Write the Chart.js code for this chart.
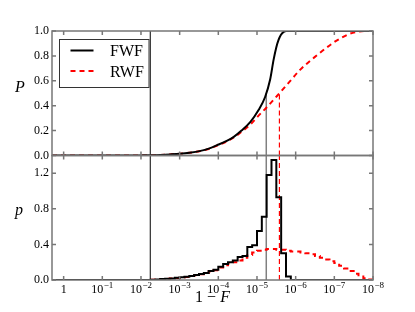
<!DOCTYPE html>
<html><head><meta charset="utf-8">
<script src="https://cdn.jsdelivr.net/npm/chart.js@4.4.1/dist/chart.umd.min.js"></script>
<style>html,body{margin:0;padding:0;background:#fff}canvas{display:block}</style>
</head><body>
<canvas id="c" width="415" height="312"></canvas>
<script>
// x values are given as exponents e, where 1 - F = 10^-e
const fwfCdfExp = [-0.3, 1.0, 1.75, 2.0, 2.25, 2.5, 2.75, 3.0, 3.25, 3.54, 3.75, 3.97, 4.2, 4.4, 4.6, 4.83, 5.04, 5.21, 5.34, 5.43, 5.5, 5.56, 5.62, 5.69, 5.76, 6.5, 8.0];
const fwfCdf    = [0, 0, 0.0003, 0.001, 0.002, 0.005, 0.009, 0.014, 0.022, 0.037, 0.055, 0.083, 0.115, 0.15, 0.2, 0.27, 0.365, 0.47, 0.61, 0.77, 0.87, 0.93, 0.97, 0.993, 1.0, 1.0, 1.0];
const rwfCdfExp = [-0.3, 1.0, 1.75, 2.0, 2.25, 2.5, 2.75, 3.0, 3.25, 3.54, 3.75, 3.97, 4.2, 4.4, 4.6, 4.83, 5.04, 5.26, 5.58, 5.85, 6.12, 6.55, 6.97, 7.2, 7.4, 7.6, 7.83, 8.0];
const rwfCdf    = [0, 0, 0.0003, 0.001, 0.002, 0.005, 0.009, 0.014, 0.022, 0.036, 0.052, 0.08, 0.11, 0.145, 0.19, 0.25, 0.32, 0.39, 0.5, 0.595, 0.69, 0.805, 0.905, 0.948, 0.978, 0.994, 1.0, 1.0];

const histStartExp = -0.3;
const binExp = [2.25, 2.375, 2.5, 2.625, 2.75, 2.875, 3.0, 3.125, 3.25, 3.375, 3.5, 3.625, 3.75, 3.875, 4.0, 4.125, 4.25, 4.375, 4.5, 4.625, 4.75, 4.875, 5.0, 5.125, 5.25, 5.375, 5.5, 5.625, 5.75, 5.875, 6.0, 6.125, 6.25, 6.375, 6.5, 6.625, 6.75, 6.875, 7.0, 7.125, 7.25, 7.375, 7.5, 7.625, 7.75, 7.875];
const histEndExp = 8.0;
const fwfDensity = [0.004, 0.006, 0.01, 0.014, 0.018, 0.024, 0.03, 0.036, 0.045, 0.055, 0.068, 0.08, 0.1, 0.115,
  0.15, 0.18, 0.2, 0.22, 0.26, 0.27, 0.37, 0.39, 0.55, 0.71, 1.18, 1.35, 0.93, 0.30, 0.04,
  0, 0, 0, 0, 0, 0, 0, 0, 0, 0, 0, 0, 0, 0, 0, 0, 0, 0];
const rwfDensity = [0.004, 0.006, 0.01, 0.014, 0.018, 0.023, 0.029, 0.035, 0.044, 0.054, 0.066, 0.078, 0.095, 0.11,
  0.14, 0.165, 0.185,
  0.20, 0.22, 0.25, 0.28, 0.31, 0.33, 0.34, 0.35, 0.35, 0.34, 0.34, 0.33, 0.32, 0.32, 0.31, 0.30, 0.29, 0.27,
  0.25, 0.23, 0.21, 0.19, 0.16, 0.13, 0.10, 0.07, 0.04, 0.02, 0.005];

const thresholdExp = 2.24;
const fwfMedianExp = 5.24;
const rwfMedianExp = 5.58;
const medianP = 0.5;

const xTickExp = [0, 1, 2, 3, 4, 5, 6, 7, 8];
const xTickBase = ['1', '10', '10', '10', '10', '10', '10', '10', '10'];
const xTickSup  = ['', '−1', '−2', '−3', '−4', '−5', '−6', '−7', '−8'];
const yTopTicks = [0, 0.2, 0.4, 0.6, 0.8, 1.0];
const yBotTicks = [0, 0.4, 0.8, 1.2];
const seriesNames = ['FWF', 'RWF'];

const toX = e => Math.pow(10, -e);
const pts = (ex, ys) => ex.map((e, i) => ({x: toX(e), y: ys[i]}));
const histPts = (vals) => {
  const out = [{x: toX(histStartExp), y: 0}];
  binExp.forEach((e, i) => out.push({x: toX(e), y: vals[i]}));
  out.push({x: toX(histEndExp), y: vals[vals.length - 1]});
  return out;
};
const vline = (e, y0, y1) => [{x: toX(e), y: y0}, {x: toX(e), y: y1}];

const RED = '#ff0000', GRAY = '#808080', FRAME = '#777777';
const serif = '"Liberation Serif", "DejaVu Serif", serif';

const mpl = {
  id: 'mpl',
  afterDatasetsDraw(chart) {
    const {ctx, chartArea: a, scales} = chart;
    const xs = scales.x;
    ctx.save();
    ctx.strokeStyle = FRAME; ctx.lineWidth = 1.5;
    [scales.yTop, scales.yBot].forEach(s => {
      ctx.strokeRect(a.left, s.top, a.right - a.left, s.bottom - s.top);
      ctx.beginPath();
      xs.ticks.forEach(t => {
        const px = xs.getPixelForValue(t.value);
        ctx.moveTo(px, s.top); ctx.lineTo(px, s.top + 4);
        ctx.moveTo(px, s.bottom); ctx.lineTo(px, s.bottom - 4);
      });
      s.ticks.forEach(t => {
        const py = s.getPixelForValue(t.value);
        ctx.moveTo(a.left, py); ctx.lineTo(a.left + 4, py);
        ctx.moveTo(a.right, py); ctx.lineTo(a.right - 4, py);
      });
      ctx.stroke();
    });
    // x tick labels (base with raised exponent)
    ctx.fillStyle = '#000';
    ctx.textBaseline = 'alphabetic';
    ctx.textAlign = 'left';
    xs.ticks.forEach((t, i) => {
      const px = xs.getPixelForValue(t.value);
      ctx.font = '12px ' + serif;
      const wb = ctx.measureText(xTickBase[i]).width;
      ctx.font = '9px ' + serif;
      const ws = xTickSup[i] ? ctx.measureText(xTickSup[i]).width + 0.5 : 0;
      const sx = px - (wb + ws) / 2;
      ctx.font = '12px ' + serif;
      ctx.fillText(xTickBase[i], sx, a.bottom + 12.5);
      if (xTickSup[i]) {
        ctx.font = '9px ' + serif;
        ctx.fillText(xTickSup[i], sx + wb + 0.5, a.bottom + 7.5);
      }
    });
    // legend
    const lx = a.left + 7.5, ly = a.top + 8.5, lw = 89.5, lh = 48;
    ctx.fillStyle = '#fff';
    ctx.fillRect(lx, ly, lw, lh);
    ctx.strokeStyle = '#333'; ctx.lineWidth = 1;
    ctx.strokeRect(lx, ly, lw, lh);
    const ds = chart.data.datasets;
    [0, 1].forEach(i => {
      const y = ly + 11 + i * 20.5;
      ctx.beginPath();
      ctx.strokeStyle = ds[i].borderColor; ctx.lineWidth = 2;
      ctx.setLineDash(ds[i].borderDash || []);
      ctx.moveTo(lx + 11, y); ctx.lineTo(lx + 34, y);
      ctx.stroke();
      ctx.setLineDash([]);
      ctx.fillStyle = '#000';
      ctx.font = '16px ' + serif;
      ctx.textBaseline = 'middle';
      ctx.textAlign = 'left';
      ctx.fillText(ds[i].label, lx + 50.5, y + 1.5);
    });
    // axis titles
    ctx.fillStyle = '#000';
    ctx.textAlign = 'center';
    ctx.textBaseline = 'alphabetic';
    ctx.font = 'italic 16px ' + serif;
    ctx.fillText('P', 20, (scales.yTop.top + scales.yTop.bottom) / 2 - 1);
    ctx.fillText('p', 19, (scales.yBot.top + scales.yBot.bottom) / 2 - 3);
    const cx = (a.left + a.right) / 2;
    ctx.font = '16px ' + serif;
    const part1 = '1 − ';
    const w1 = ctx.measureText(part1).width;
    ctx.font = 'italic 16px ' + serif;
    const w2 = ctx.measureText('F').width;
    const sx = cx - (w1 + w2) / 2;
    ctx.textAlign = 'left';
    ctx.font = '16px ' + serif;
    ctx.fillText(part1, sx, 302);
    ctx.font = 'italic 16px ' + serif;
    ctx.fillText('F', sx + w1, 302);
    ctx.restore();
  }
};

const tickFont = {family: serif, size: 12};
const yCommon = {
  type: 'linear', position: 'left', stack: 'panels', stackWeight: 1,
  afterFit: s => { s.width = 52; },
  grid: {display: false, drawTicks: false}, border: {display: false},
  ticks: {autoSkip: false, padding: 3, color: '#000', font: tickFont, callback: v => v.toFixed(1)}
};
new Chart(document.getElementById('c'), {
  type: 'line',
  data: {
    datasets: [
      {label: seriesNames[0], data: pts(fwfCdfExp, fwfCdf), yAxisID: 'yTop', borderColor: '#000', borderWidth: 2, cubicInterpolationMode: 'monotone', order: 1},
      {label: seriesNames[1], data: pts(rwfCdfExp, rwfCdf), yAxisID: 'yTop', borderColor: RED, borderWidth: 2, borderDash: [5, 4], cubicInterpolationMode: 'monotone', order: 2},
      {label: seriesNames[0] + ' p', data: histPts(fwfDensity), yAxisID: 'yBot', borderColor: '#000', borderWidth: 2, stepped: 'before', order: 1},
      {label: seriesNames[1] + ' p', data: histPts(rwfDensity), yAxisID: 'yBot', borderColor: RED, borderWidth: 2, borderDash: [5, 4], stepped: 'before', order: 2},
      {label: 'cut top', data: vline(thresholdExp, 0, 1), yAxisID: 'yTop', borderColor: '#000', borderWidth: 1, order: 5},
      {label: 'cut bot', data: vline(thresholdExp, 0, 1.4), yAxisID: 'yBot', borderColor: '#000', borderWidth: 1, order: 5},
      {label: 'fwf med top', data: vline(fwfMedianExp, 0, medianP), yAxisID: 'yTop', borderColor: GRAY, borderWidth: 1.5, order: 4},
      {label: 'fwf med bot', data: vline(fwfMedianExp, 0, 1.4), yAxisID: 'yBot', borderColor: GRAY, borderWidth: 1.5, order: 4},
      {label: 'rwf med top', data: vline(rwfMedianExp, 0, medianP), yAxisID: 'yTop', borderColor: RED, borderWidth: 1.2, borderDash: [5, 3], order: 3},
      {label: 'rwf med bot', data: vline(rwfMedianExp, 0, 1.4), yAxisID: 'yBot', borderColor: RED, borderWidth: 1.2, borderDash: [5, 3], order: 3}
    ]
  },
  options: {
    responsive: false,
    animation: false,
    events: [],
    layout: {padding: {top: 31, right: 42, left: 0, bottom: 0}},
    elements: {point: {radius: 0}, line: {tension: 0}},
    plugins: {legend: {display: false}, tooltip: {enabled: false}},
    scales: {
      x: {
        type: 'logarithmic', reverse: true, min: 1e-8, max: 2,
        afterBuildTicks: s => { s.ticks = xTickExp.map(e => ({value: toX(e)})); },
        afterFit: s => { s.height = 32; },
        grid: {display: false, drawTicks: false}, border: {display: false},
        ticks: {display: false, autoSkip: false, maxRotation: 0}
      },
      yTop: Object.assign({}, yCommon, {
        weight: 1, min: 0, max: 1,
        afterBuildTicks: s => { s.ticks = yTopTicks.map(v => ({value: v})); }
      }),
      yBot: Object.assign({}, yCommon, {
        weight: 0, min: 0, max: 1.4,
        afterBuildTicks: s => { s.ticks = yBotTicks.map(v => ({value: v})); }
      })
    }
  },
  plugins: [mpl]
});
</script>
</body></html>
